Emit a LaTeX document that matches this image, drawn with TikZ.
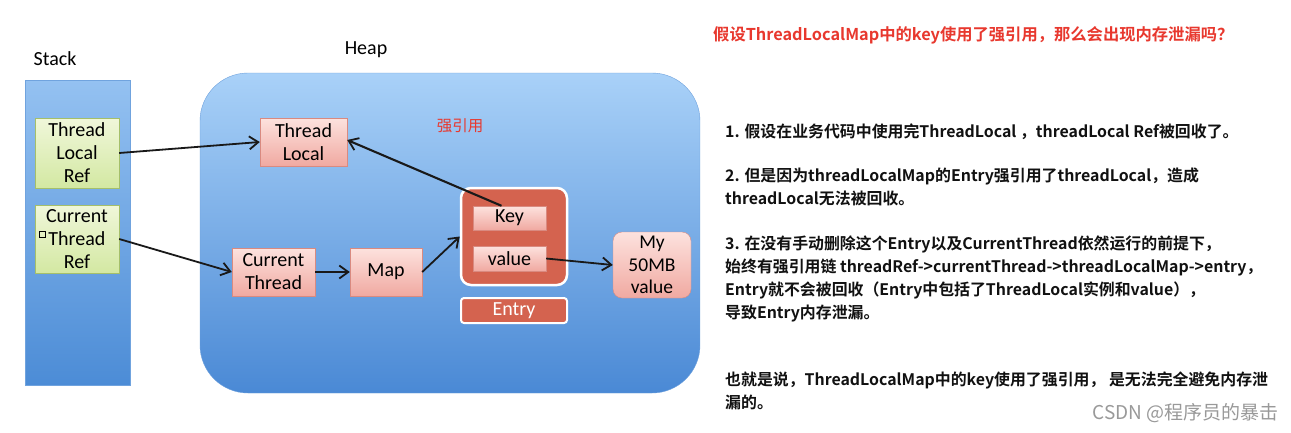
\documentclass[tikz,border=0pt]{standalone}
\usepackage{fontspec}
\setmainfont{Carlito}
\newfontfamily\cjk{Noto Sans CJK SC}
\newfontfamily\cjkb{Noto Sans CJK SC Bold}
\usetikzlibrary{arrows.meta}
\definecolor{stacktop}{HTML}{94C1F1}
\definecolor{stackbot}{HTML}{4C8CD6}
\definecolor{heaptop}{HTML}{A9D1F8}
\definecolor{heapbot}{HTML}{4A89D5}
\definecolor{greentop}{HTML}{F0F7DA}
\definecolor{greenbot}{HTML}{D3E8A2}
\definecolor{greenline}{HTML}{A5BF6A}
\definecolor{pinktop}{HTML}{FDE2DE}
\definecolor{pinkbot}{HTML}{F0A9A1}
\definecolor{pinkline}{HTML}{D98A80}
\definecolor{coral}{HTML}{D4634F}
\definecolor{titlered}{HTML}{E8382E}
\definecolor{bodytext}{HTML}{111111}
\tikzset{
  greenbox/.style={draw=greenline, top color=greentop, bottom color=greenbot, align=center, font=\fontsize{20}{23}\selectfont, inner sep=0pt},
  pinkbox/.style={draw=pinkline, top color=pinktop, bottom color=pinkbot, align=center, font=\fontsize{20}{23}\selectfont, inner sep=0pt},
  ref/.style={draw=black!90, line width=1.8pt, -{Straight Barb[length=9pt,width=13pt,line width=1.8pt]}},
  body/.style={anchor=base west, inner sep=0pt, font=\cjkb\fontsize{15.9}{18}\selectfont, text=bodytext},
  lbl/.style={inner sep=0pt, font=\fontsize{20}{22}\selectfont}
}
\begin{document}
\begin{tikzpicture}[x=1pt,y=-1pt]
\useasboundingbox[fill=white] (0,0) rectangle (1291,432);
% Stack
\node[lbl] (stacklbl) at (55,59) {Stack};
\shade[top color=stacktop, bottom color=stackbot, draw=stackbot!80] (25,80) rectangle (130,385);
\node[greenbox, minimum width=84pt, minimum height=70pt] (tlr) at (77,153) {Thread\\Local\\Ref};
\node[greenbox, minimum width=84pt, minimum height=68pt] (ctr) at (77,239) {Current\\Thread\\Ref};
\draw[black, line width=0.6pt] (39.5,231.5) rectangle (45.5,237.5);
% Heap
\node[lbl] (heaplbl) at (366,50) {Heap};
\shade[top color=heaptop, bottom color=heapbot, draw=heapbot!80, rounded corners=48pt] (200,73) rectangle (700,393);
\node[inner sep=0pt, text=titlered, font=\cjk\fontsize{15.5}{17}\selectfont] (strong) at (460,126) {强引用};
\node[pinkbox, minimum width=87pt, minimum height=48pt] (tl) at (303.5,142) {Thread\\Local};
\node[pinkbox, minimum width=83pt, minimum height=48pt] (ct) at (273.5,272) {Current\\Thread};
\node[pinkbox, minimum width=72pt, minimum height=48pt] (map) at (386,272) {Map};
\node[draw=white, line width=2.5pt, fill=coral, rounded corners=10pt, minimum width=106pt, minimum height=97pt] (entry) at (514,236.5) {};
\node[pinkbox, minimum width=73pt, minimum height=24pt] (key) at (509.5,218) {Key};
\node[pinkbox, minimum width=73pt, minimum height=25pt] (val) at (509.5,258.5) {value};
\node[draw=white, line width=2pt, fill=coral, rounded corners=3pt, minimum width=106pt, minimum height=25pt, text=white, inner sep=0pt, font=\fontsize{20}{22}\selectfont] (entrylbl) at (514,310.5) {Entry};
\node[pinkbox, rounded corners=9pt, minimum width=78pt, minimum height=66pt, font=\fontsize{19.5}{22.5}\selectfont] (my) at (652,265) {My\\50MB\\value};
% connectors
\draw[ref] (tlr.east) -- (tl.west);
\draw[ref, line width=2.1pt] ([xshift=-8pt]key.north) -- ([yshift=2pt]tl.east);
\draw[ref] (ctr.east) -- (ct.west);
\draw[ref] (ct.east) -- (map.west);
\draw[ref] (map.east) -- (entry.west);
\draw[ref] (val.east) -- (my.west);
% right text
\node[body, text=titlered, font=\cjkb\fontsize{16.3}{18}\selectfont] (title) at (713,40) {假设ThreadLocalMap中的key使用了强引用，那么会出现内存泄漏吗？};
\node[body] (l1) at (725,137) {1. 假设在业务代码中使用完ThreadLocal ，threadLocal Ref被回收了。};
\node[body] (l2) at (725,181) {2. 但是因为threadLocalMap的Entry强引用了threadLocal，造成};
\node[body] (l3) at (725,204) {threadLocal无法被回收。};
\node[body] (l4) at (725,249) {3. 在没有手动删除这个Entry以及CurrentThread依然运行的前提下，};
\node[body] (l5) at (725,272) {始终有强引用链 threadRef->currentThread->threadLocalMap->entry，};
\node[body] (l6) at (725,295) {Entry就不会被回收（Entry中包括了ThreadLocal实例和value），};
\node[body] (l7) at (725,318) {导致Entry内存泄漏。};
\node[body] (l8) at (725,385) {也就是说，ThreadLocalMap中的key使用了强引用， 是无法完全避免内存泄};
\node[body] (l9) at (725,408) {漏的。};
\node[anchor=base east, inner sep=0pt, text=black!40, font=\cjk\fontsize{19}{20}\selectfont] (wm) at (1279,419) {CSDN @程序员的暴击};
\end{tikzpicture}
\end{document}
